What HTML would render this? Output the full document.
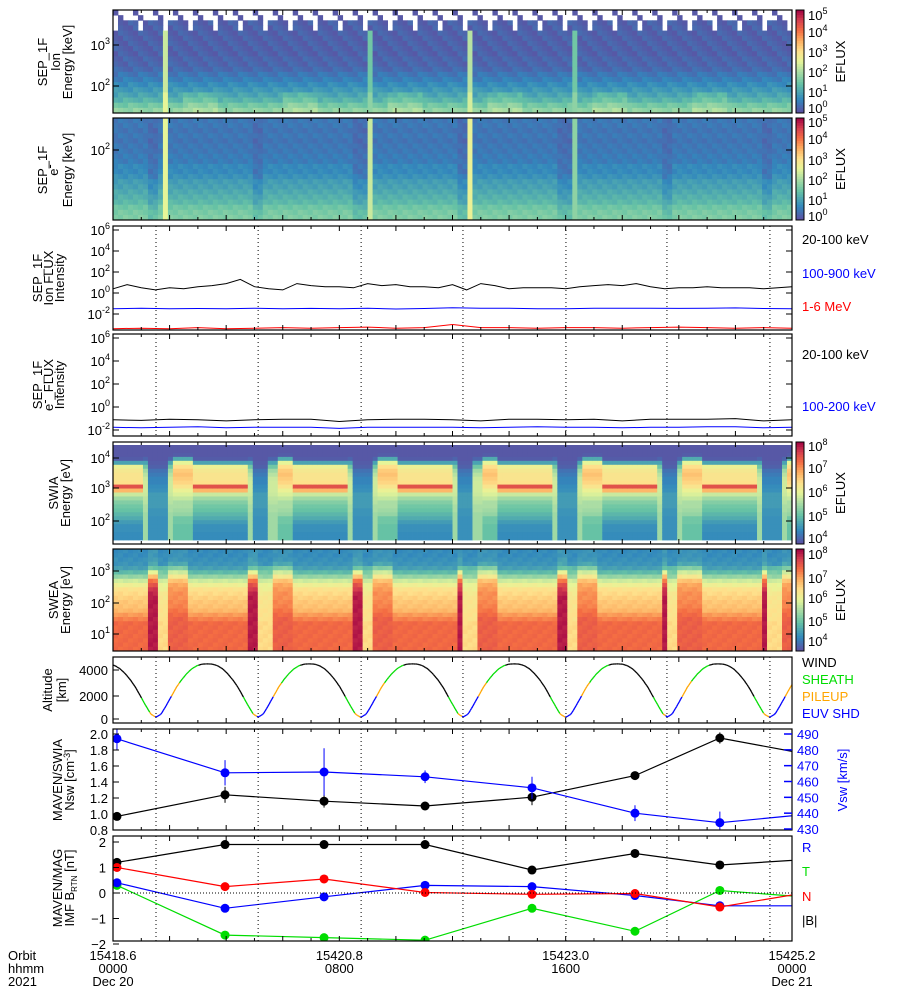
<!DOCTYPE html>
<html><head><meta charset="utf-8">
<style>
html,body{margin:0;padding:0;background:#fff;}
svg{display:block;font-family:"Liberation Sans",sans-serif;}
text{font-size:13px;}
</style></head>
<body>
<svg id="fig" width="900" height="1000" viewBox="0 0 900 1000" xmlns="http://www.w3.org/2000/svg">
<g id="heat"></g>
<g id="lines"></g>
<g id="axes"></g>
<g id="labels"></g>
</svg>
<script>
// ---------- data ----------
const periHours = [-2.1, 1.52, 5.13, 8.77, 12.37, 16.01, 19.58, 23.22];
const orbitPeriod = 3.617;
const altPhase = [0,0.05,0.1,0.15,0.2,0.25,0.3,0.35,0.4,0.45,0.5,0.55,0.6,0.65,0.7,0.75,0.8,0.85,0.9,0.95,1];
const altValues = [150,400,1100,1850,2600,3200,3700,4100,4350,4480,4500,4480,4350,4100,3700,3200,2600,1850,1100,400,150];
const regimePhase = [0, 0.16, 0.24, 0.42, 0.86, 0.95];
const regimeName = ['EUV SHD','PILEUP','SHEATH','WIND','SHEATH','PILEUP'];
const regimeColor = {'WIND':'#000','SHEATH':'#00dd00','PILEUP':'#ffa500','EUV SHD':'#0000ff'};

const swiaPhase = [0, 0.1, 0.17, 0.35, 0.88, 0.93];
const swiaState = ['L','T','H','S','T','L'];
const swiaProfiles = {
 S:[0.02,0.02,0.02,0.03,0.2,0.52,0.56,0.58,0.58,0.6,0.86,0.68,0.45,0.38,0.33,0.3,0.28,0.25,0.22,0.18,0.15,0.15,0.14,0.14],
 H:[0.02,0.02,0.03,0.22,0.5,0.6,0.64,0.66,0.64,0.62,0.58,0.52,0.48,0.44,0.4,0.4,0.38,0.36,0.3,0.3,0.28,0.28,0.28,0.28],
 L:[0.02,0.02,0.02,0.02,0.03,0.04,0.08,0.1,0.12,0.12,0.14,0.15,0.18,0.18,0.18,0.18,0.16,0.16,0.15,0.15,0.15,0.15,0.15,0.15],
 T:[0.02,0.02,0.02,0.05,0.2,0.3,0.38,0.42,0.45,0.46,0.46,0.46,0.45,0.43,0.42,0.4,0.4,0.38,0.38,0.38,0.38,0.38,0.38,0.38]
};
const sweaPhase = [0, 0.12, 0.17, 0.32, 0.92, 0.97];
const sweaState = ['L','H','H','S','D','D'];
const sweaProfiles = {
 S:[0.13,0.13,0.14,0.15,0.18,0.25,0.35,0.45,0.52,0.58,0.6,0.62,0.64,0.65,0.67,0.72,0.76,0.8,0.8,0.8,0.8,0.8,0.8,0.8],
 H:[0.15,0.15,0.16,0.2,0.32,0.45,0.55,0.65,0.7,0.72,0.74,0.74,0.75,0.76,0.78,0.8,0.82,0.82,0.82,0.82,0.82,0.82,0.82,0.82],
 L:[0.13,0.13,0.14,0.15,0.25,0.3,0.35,0.45,0.5,0.52,0.55,0.56,0.57,0.57,0.58,0.58,0.58,0.6,0.6,0.6,0.6,0.6,0.6,0.6],
 D:[0.16,0.16,0.18,0.2,0.28,0.5,0.65,0.78,0.85,0.9,0.93,0.95,0.95,0.95,0.95,0.95,0.95,0.95,0.95,0.95,0.95,0.95,0.95,0.95]
};
const sepIonRows = [0.02,0.02,0.02,0.02,0.02,0.02,0.02,0.02,0.02,0.03,0.03,0.04,0.07,0.09,0.12,0.15,0.18,0.22,0.28,0.33];
const sepEleRows = [0.08,0.08,0.07,0.08,0.07,0.08,0.08,0.09,0.09,0.12,0.12,0.14,0.17,0.18,0.2,0.22,0.24,0.28,0.3,0.31];
const stripeHours = [1.87, 9.12, 12.69, 16.33];
const stripeIonLvl = [0.45, 0.3, 0.42, 0.3];
const stripeEleLvl = [0.5, 0.45, 0.52, 0.35];

const sepIonBlack = [0.4,0.8,0.5,0.3,0.5,0.4,0.6,0.7,0.9,1.3,0.6,0.4,0.3,0.9,0.7,0.6,0.6,0.5,0.9,0.7,0.8,0.6,0.6,0.5,0.8,0.3,0.9,0.7,0.4,0.5,0.5,0.5,0.4,0.6,0.7,0.8,0.7,0.9,0.6,0.4,0.5,0.5,0.6,0.5,0.5,0.5,0.4,0.5,0.6];
const sepIonBlue = [-1.5,-1.45,-1.5,-1.48,-1.5,-1.45,-1.5,-1.47,-1.5,-1.45,-1.52,-1.48,-1.4,-1.45,-1.45,-1.5,-1.5,-1.45,-1.45,-1.45,-1.47,-1.45,-1.42,-1.48,-1.5];
const sepIonRed = [-3.4,-3.35,-3.4,-3.3,-3.4,-3.35,-3.3,-3.35,-3.3,-3.25,-3.35,-3.3,-3.0,-3.3,-3.3,-3.35,-3.3,-3.3,-3.35,-3.3,-3.25,-3.3,-3.35,-3.3,-3.35];
const sepEleBlack = [-0.85,-0.9,-0.8,-0.85,-0.95,-0.85,-0.8,-0.8,-1.0,-0.85,-0.8,-0.8,-0.85,-0.95,-0.8,-0.8,-0.85,-0.8,-0.95,-0.8,-0.8,-0.8,-0.75,-0.95,-0.85];
const sepEleBlue = [-1.5,-1.55,-1.5,-1.45,-1.55,-1.5,-1.5,-1.5,-1.6,-1.5,-1.5,-1.5,-1.5,-1.55,-1.5,-1.45,-1.5,-1.5,-1.55,-1.5,-1.5,-1.45,-1.45,-1.55,-1.5];

const swHours = [0.14, 3.96, 7.46, 11.03, 14.81, 18.45, 21.45, 24.95];
const nsw = [0.97, 1.24, 1.16, 1.10, 1.21, 1.48, 1.95, 1.72];
const nswErr = [0.03, 0.1, 0.08, 0.03, 0.1, 0.05, 0.07, 0.05];
const vsw = [487, 465.5, 466, 463, 456, 440, 434, 440];
const vswErr = [7, 8, 15, 4, 7, 5, 7, 5];
const bR = [0.4, -0.6, -0.15, 0.3, 0.25, -0.1, -0.5, -0.5];
const bT = [0.3, -1.65, -1.75, -1.85, -0.6, -1.5, 0.1, -0.2];
const bN = [1.0, 0.25, 0.55, 0.02, -0.05, -0.02, -0.55, 0.1];
const bMag = [1.2, 1.9, 1.9, 1.9, 0.9, 1.55, 1.1, 1.35];

// ---------- helpers ----------
const NS='http://www.w3.org/2000/svg';
const X0=113, X1=792;
const xOf=h=>X0+h/24*(X1-X0);
function mk(tag,attrs,parent){const e=document.createElementNS(NS,tag);for(const k in attrs)e.setAttribute(k,attrs[k]);parent.appendChild(e);return e;}
const cmapStops=[[0,'#5e4fa2'],[0.13,'#3288bd'],[0.28,'#66c2a5'],[0.4,'#abdda4'],[0.5,'#e6f598'],[0.6,'#fee08b'],[0.7,'#fdae61'],[0.8,'#f46d43'],[0.9,'#d53e4f'],[1,'#9e0142']];
function hex(c){return [parseInt(c.slice(1,3),16),parseInt(c.slice(3,5),16),parseInt(c.slice(5,7),16)];}
function cmap(v){v=Math.max(0,Math.min(1,v));for(let i=1;i<cmapStops.length;i++){if(v<=cmapStops[i][0]){const a=cmapStops[i-1],b=cmapStops[i];const t=(v-a[0])/(b[0]-a[0]);const A=hex(a[1]),B=hex(b[1]);return 'rgb('+A.map((x,j)=>Math.round(x+(B[j]-x)*t)).join(',')+')';}}return cmapStops[cmapStops.length-1][1];}
function phaseOf(h){let p=periHours[0];for(const q of periHours)if(q<=h)p=q;return ((h-p)/orbitPeriod)%1;}
function pick(phArr,stArr,ph){let s=stArr[0];for(let i=0;i<phArr.length;i++)if(ph>=phArr[i])s=stArr[i];return s;}
function interp(xs,ys,x){for(let i=1;i<xs.length;i++)if(x<=xs[i]){const t=(x-xs[i-1])/(xs[i]-xs[i-1]);return ys[i-1]+(ys[i]-ys[i-1])*t;}return ys[ys.length-1];}
const heat=document.getElementById('heat'), lines=document.getElementById('lines'), axes=document.getElementById('axes'), labels=document.getElementById('labels');
const NC=136, CW=(X1-X0)/NC;

// ---------- spectrograms ----------
function spectro(name,y0,y1,rowsFn){
  const g=mk('g',{},heat);
  
  
  for(let c=0;c<NC;c++){
    const h=(c+0.5)/NC*24;
    const col=rowsFn(h,c);
    const nr=col.length, rh=(y1-y0)/nr;
    for(let r=0;r<nr;r++){
      if(col[r]===null)continue;
      mk('rect',{x:(X0+c*CW).toFixed(2),y:(y0+r*rh).toFixed(2),width:(CW+0.4).toFixed(2),height:(rh+0.4).toFixed(2),fill:cmap(col[r])},g);
    }
  }
}
function stripeLevel(h,lvls){for(let i=0;i<stripeHours.length;i++)if(Math.abs(h-stripeHours[i])<0.09)return lvls[i];return null;}
spectro('sep-ion-spectrogram',10,113,(h,c)=>{
  const s=stripeLevel(h,stripeIonLvl);
  return sepIonRows.map((v,r)=>{
    if(s!==null&&r>3)return s+(r>15?0.05:0);
    if(r<2&&((c*7+r*13)%4!==0))return null;
    if(r>=2&&r<4&&((c*11+r*5)%5===0))return null;
    const ph=phaseOf(h);const boost=(r>=16&&ph>0.25&&ph<0.6)?0.05:0;
    return v+boost+((c*3+r)%4)*0.015;
  });
});
spectro('sep-electron-spectrogram',118,220,(h,c)=>{
  const s=stripeLevel(h,stripeEleLvl);const ph=phaseOf(h);
  const dip=(ph>0.94||ph<0.04)?0.05:0;
  return sepEleRows.map((v,r)=>s!==null?s:v-dip*(r>8?1:0.5)+((c*5+r)%3)*0.015);
});
spectro('swia-spectrogram',445,540,(h,c)=>{const st=pick(swiaPhase,swiaState,phaseOf(h));return swiaProfiles[st];});
spectro('swea-spectrogram',549,651,(h,c)=>{const st=pick(sweaPhase,sweaState,phaseOf(h));return sweaProfiles[st].map((v,r)=>v+((c+r)%3)*0.01);});

// ---------- panel frames ----------
const panels=[['sep-ion-panel',10,113],['sep-electron-panel',118,220],['sep-ion-flux-panel',226,330],['sep-electron-flux-panel',334,436],['swia-panel',442,544],['swea-panel',549,651],['altitude-panel',657,723],['solar-wind-panel',729,830],['imf-panel',836,941]];
panels.forEach(p=>{
  const r=mk('rect',{x:X0,y:p[1],width:X1-X0,height:p[2]-p[1],fill:'none',stroke:'#000','stroke-width':1.2},axes);
  
  
  for(let h=1;h<24;h++){const x=xOf(h);const L=(h%2===0)?5:3;
    mk('line',{x1:x,y1:p[2],x2:x,y2:p[2]-L,stroke:'#000'},axes);
    mk('line',{x1:x,y1:p[1],x2:x,y2:p[1]+L,stroke:'#000'},axes);}
});
[2,3,6,7,8].forEach(i=>{const p=panels[i];periHours.slice(1).forEach(h=>{
  const l=mk('line',{x1:xOf(h),y1:p[1],x2:xOf(h),y2:p[2],stroke:'#000','stroke-dasharray':'1,3','stroke-width':1},axes);
  
  
});});

// ---------- SEP line panels ----------
function logLine(name,arr,y0dec,pxPerDec,color,yclip0,yclip1){
  const pts=arr.map((v,i)=>{const x=X0+i/(arr.length-1)*(X1-X0);const y=Math.min(yclip1,Math.max(yclip0,y0dec-v*pxPerDec));return x.toFixed(1)+','+y.toFixed(1);});
  const pl=mk('polyline',{points:pts.join(' '),fill:'none',stroke:color,'stroke-width':1},lines);
  
  
}
logLine('ion-flux-20-100kev',sepIonBlack,293,10.5,'#000',226,330);
logLine('ion-flux-100-900kev',sepIonBlue,293,10.5,'#0000ff',226,330);
logLine('ion-flux-1-6mev',sepIonRed,293,10.5,'#ff0000',226,329);
logLine('electron-flux-20-100kev',sepEleBlack,410,11.5,'#000',334,436);
logLine('electron-flux-100-200kev',sepEleBlue,410,11.5,'#0000ff',334,436);

// ---------- altitude ----------
(function(){
  const g=mk('g',{},lines);
  
  
  const N=500;let prev=null;
  for(let i=0;i<=N;i++){
    const h=i/N*24;const ph=phaseOf(h);
    const alt=interp(altPhase,altValues,ph);
    const pt=[xOf(h),719-alt*0.01225];
    const reg=pick(regimePhase,regimeName,ph);
    if(prev)mk('line',{x1:prev[0].toFixed(1),y1:prev[1].toFixed(1),x2:pt[0].toFixed(1),y2:pt[1].toFixed(1),stroke:regimeColor[reg],'stroke-width':1.3},g);
    prev=pt;
  }
})();

// ---------- solar wind & IMF ----------
const yN=v=>830-(v-0.8)*80;
const yV=v=>829-(v-430)*(95/60);
const yB=v=>893-v*25.5;
const defs=mk('defs',{},axes);
const c1=mk('clipPath',{id:'clipSW'},defs);mk('rect',{x:X0,y:729,width:X1-X0,height:101},c1);
const c2=mk('clipPath',{id:'clipB'},defs);mk('rect',{x:X0,y:836,width:X1-X0,height:105},c2);
function series(name,hs,vals,yf,color,errs,clip){
  const g=mk('g',{'clip-path':'url(#'+clip+')'},lines);
  
  
  mk('polyline',{points:hs.map((h,i)=>xOf(h).toFixed(1)+','+yf(vals[i]).toFixed(1)).join(' '),fill:'none',stroke:color,'stroke-width':1.2},g);
  hs.forEach((h,i)=>{
    if(errs)mk('line',{x1:xOf(h),x2:xOf(h),y1:yf(vals[i]-errs[i]),y2:yf(vals[i]+errs[i]),stroke:color,'stroke-width':1},g);
    const c=mk('circle',{cx:xOf(h),cy:yf(vals[i]),r:4.5,fill:color},g);
    
    
  });
}
series('nsw-series',swHours,nsw,yN,'#000',nswErr,'clipSW');
series('vsw-series',swHours,vsw,yV,'#0000ff',vswErr,'clipSW');
mk('line',{x1:X0,x2:X1,y1:yB(0),y2:yB(0),stroke:'#000','stroke-dasharray':'1,2'},axes);
series('b-mag-series',swHours,bMag,yB,'#000',null,'clipB');
series('b-t-series',swHours,bT,yB,'#00dd00',null,'clipB');
series('b-r-series',swHours,bR,yB,'#0000ff',null,'clipB');
series('b-n-series',swHours,bN,yB,'#ff0000',null,'clipB');

// ---------- text ----------
function txt(name,x,y,s,opts){
  opts=opts||{};
  const t=mk('text',{x:x,y:y,'text-anchor':opts.anchor||'start'},labels);
  t.style.fill=opts.fill||'#000';
  if(opts.size)t.style.fontSize=opts.size+'px';
  if(opts.rot)t.setAttribute('transform','rotate(-90 '+x+' '+y+')');
  
  
  t.innerHTML=s;return t;
}
const pw=(b,e)=>b+'<tspan dy="-6" style="font-size:9px">'+e+'</tspan>';
function ticksLog(list,x){list.forEach(([y,e])=>{txt('y-tick-label',x,y+5,pw('10',e),{anchor:'end'});mk('line',{x1:X0,x2:X0+6,y1:y,y2:y,stroke:'#000'},axes);mk('line',{x1:X1,x2:X1-6,y1:y,y2:y,stroke:'#000'},axes);});}
ticksLog([[45,3],[86,2]],110);
ticksLog([[150,2]],110);
ticksLog([[230,6],[251,4],[272,2],[293,0],[314,'-2']],110);
ticksLog([[338,6],[361,4],[384,2],[407,0],[430,'-2']],110);
ticksLog([[458,4],[488,3],[521,2]],110);
ticksLog([[571,3],[603,2],[634,1]],110);
[[670,'4000'],[696,'2000'],[719,'0']].forEach(([y,s])=>{txt('y-tick-label',108,y+5,s,{anchor:'end'});mk('line',{x1:X0,x2:X0+6,y1:y,y2:y,stroke:'#000'},axes);});
['0.8','1.0','1.2','1.4','1.6','1.8','2.0'].forEach(s=>{const y=yN(+s);txt('y-tick-label',108,y+5,s,{anchor:'end'});mk('line',{x1:X0,x2:X0+6,y1:y,y2:y,stroke:'#000'},axes);});
['430','440','450','460','470','480','490'].forEach(s=>{const y=yV(+s);txt('vsw-tick-label',797,y+5,s,{fill:'#0000ff'});mk('line',{x1:X1,x2:X1-8,y1:y,y2:y,stroke:'#0000ff','stroke-width':1.5},axes);});
['2','1','0','\u22121','\u22122'].forEach((s,i)=>{const y=yB(2-i);txt('y-tick-label',106,y+5,s,{anchor:'end'});mk('line',{x1:X0,x2:X0+6,y1:y,y2:y,stroke:'#000'},axes);});
txt('y-title',47,62,'SEP_1F',{rot:1,anchor:'middle'});txt('y-title',60,62,'Ion',{rot:1,anchor:'middle'});txt('y-title',72,62,'Energy [keV]',{rot:1,anchor:'middle'});
txt('y-title',47,170,'SEP_1F',{rot:1,anchor:'middle'});txt('y-title',58,170,'e<tspan dy="-4">-</tspan>',{rot:1,anchor:'middle'});txt('y-title',72,170,'Energy [keV]',{rot:1,anchor:'middle'});
txt('y-title',42,278,'SEP_1F',{rot:1,anchor:'middle'});txt('y-title',53,278,'Ion FLUX',{rot:1,anchor:'middle'});txt('y-title',64,278,'Intensity',{rot:1,anchor:'middle'});
txt('y-title',42,385,'SEP_1F',{rot:1,anchor:'middle'});txt('y-title',53,385,'e<tspan dy="-4">-</tspan><tspan dy="4">_FLUX</tspan>',{rot:1,anchor:'middle'});txt('y-title',64,385,'Intensity',{rot:1,anchor:'middle'});
txt('y-title',58,493,'SWIA',{rot:1,anchor:'middle'});txt('y-title',70,493,'Energy [eV]',{rot:1,anchor:'middle'});
txt('y-title',58,600,'SWEA',{rot:1,anchor:'middle'});txt('y-title',70,600,'Energy [eV]',{rot:1,anchor:'middle'});
txt('y-title',52,690,'Altitude',{rot:1,anchor:'middle'});txt('y-title',66,690,'[km]',{rot:1,anchor:'middle'});
txt('y-title',62,780,'MAVEN/SWIA',{rot:1,anchor:'middle'});txt('y-title',74,780,'Nsw [cm<tspan dy="-4" style="font-size:9px">-3</tspan><tspan dy="4">]</tspan>',{rot:1,anchor:'middle'});
txt('vsw-title',847,780,'Vsw [km/s]',{rot:1,anchor:'middle',fill:'#0000ff'});
txt('y-title',62,888,'MAVEN/MAG',{rot:1,anchor:'middle'});txt('y-title',74,888,'IMF B<tspan dy="3" style="font-size:8px">RTN</tspan><tspan dy="-3"> [nT]</tspan>',{rot:1,anchor:'middle'});
function cbar(name,y0,y1,labelsArr){
  const g=mk('g',{},axes);
  
  
  const n=40;for(let i=0;i<n;i++)mk('rect',{x:796,y:y0+(y1-y0)*i/n,width:8,height:(y1-y0)/n+0.5,fill:cmap(1-(i+0.5)/n)},g);
  mk('rect',{x:796,y:y0,width:8,height:y1-y0,fill:'none',stroke:'#000'},g);
  labelsArr.forEach(([y,e])=>txt('colorbar-tick-label',808,y+5,pw('10',e)));
  txt('colorbar-title',845,(y0+y1)/2,'EFLUX',{rot:1,anchor:'middle'});
}
cbar('sep-ion-colorbar',10,113,[[15,5],[32,4],[52,3],[72,2],[92,1],[108,0]]);
cbar('sep-electron-colorbar',118,220,[[122,5],[139,4],[160,3],[180,2],[200,1],[216,0]]);
cbar('swia-colorbar',442,544,[[446,8],[468,7],[492,6],[516,5],[538,4]]);
cbar('swea-colorbar',549,651,[[554,8],[578,7],[598,6],[621,5],[641,4]]);
txt('legend-entry',802,244,'20-100 keV');txt('legend-entry',802,278,'100-900 keV',{fill:'#0000ff'});txt('legend-entry',802,311,'1-6 MeV',{fill:'#ff0000'});
txt('legend-entry',802,359,'20-100 keV');txt('legend-entry',802,411,'100-200 keV',{fill:'#0000ff'});
txt('legend-entry',802,667,'WIND');txt('legend-entry',802,684,'SHEATH',{fill:'#00dd00'});txt('legend-entry',802,701,'PILEUP',{fill:'#ffa500'});txt('legend-entry',802,718,'EUV SHD',{fill:'#0000ff'});
txt('legend-entry',802,852,'R',{fill:'#0000ff'});txt('legend-entry',802,876,'T',{fill:'#00dd00'});txt('legend-entry',802,901,'N',{fill:'#ff0000'});txt('legend-entry',802,925,'|B|');
txt('x-axis-row-label',8,960,'Orbit');txt('x-axis-row-label',8,973,'hhmm');txt('x-axis-row-label',8,986,'2021');
[[0,'15418.6','0000','Dec 20'],[8,'15420.8','0800',''],[16,'15423.0','1600',''],[24,'15425.2','0000','Dec 21']].forEach(([h,o,t,d])=>{
  const x=xOf(h);txt('x-tick-orbit',x,960,o,{anchor:'middle'});txt('x-tick-time',x,973,t,{anchor:'middle'});if(d)txt('x-tick-date',x,986,d,{anchor:'middle'});
});
</script>
</body></html>
